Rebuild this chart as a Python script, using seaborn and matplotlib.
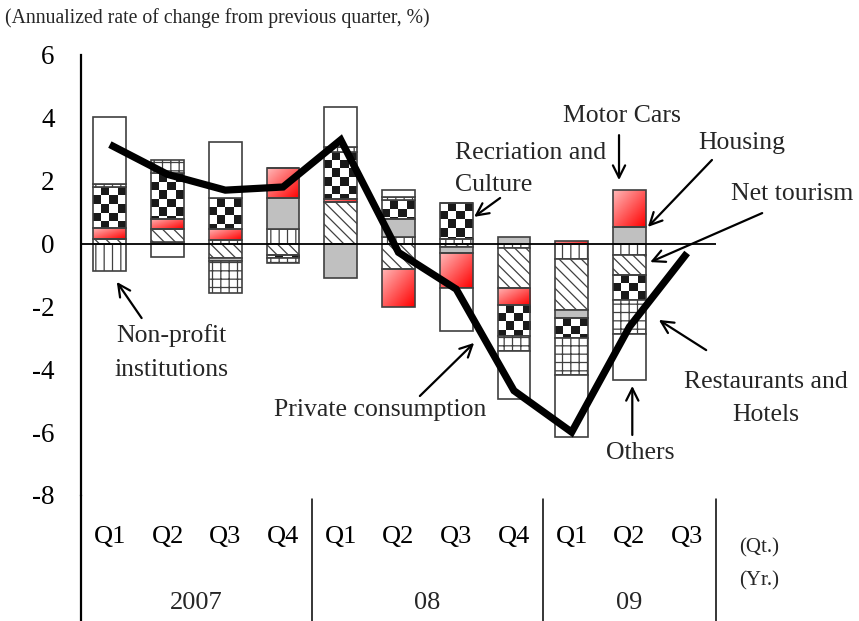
import numpy as np
import pandas as pd
import matplotlib
matplotlib.use("Agg")
import matplotlib.pyplot as plt
import matplotlib.transforms as mtransforms
from matplotlib.colors import ListedColormap
import seaborn as sns

# ---- data -------------------------------------------------------------
periods = ["2007Q1", "2007Q2", "2007Q3", "2007Q4",
           "2008Q1", "2008Q2", "2008Q3", "2008Q4",
           "2009Q1", "2009Q2", "2009Q3"]
quarters = ["Q1", "Q2", "Q3", "Q4", "Q1", "Q2", "Q3", "Q4", "Q1", "Q2", "Q3"]
years = ["2007", "08", "09"]

# contributions (percentage points), quarters 2007Q1 .. 2009Q2
non_profit = [-0.88, 0.06, 0.10, 0.45, 0.00, 0.20, 0.15, -0.15, -0.50, -0.37]
net_tourism = [0.15, 0.40, -0.45, -0.35, 1.33, -0.80, -0.12, -1.25, -1.62, -0.62]
housing = [0.00, 0.00, -0.12, 1.00, -1.10, 0.58, -0.18, 0.22, -0.25, 0.54]
motor_cars = [0.34, 0.32, 0.36, 0.95, 0.08, -1.23, -1.10, -0.55, 0.08, 1.17]
recreation = [1.30, 1.45, 0.98, -0.10, 1.50, 0.60, 1.15, -1.00, -0.65, -0.82]
restaurants = [0.11, 0.43, -1.00, -0.16, 0.15, 0.10, 0.00, -0.48, -1.15, -1.06]
others = [2.12, -0.43, 1.78, 0.00, 1.30, 0.23, -1.37, -1.52, -2.00, -1.48]

# private consumption, annualized q/q change (%)
private_consumption = [3.15, 2.20, 1.70, 1.80, 3.30, -0.28, -1.45, -4.68, -6.00, -2.65, -0.30]

# ---- style ------------------------------------------------------------
EDGE = "#404040"
sns.set_style("white")
plt.rcParams["font.family"] = ["Liberation Serif", "DejaVu Serif"]
plt.rcParams["hatch.color"] = EDGE
plt.rcParams["hatch.linewidth"] = 0.9

W, H = 859, 621
fig = plt.figure(figsize=(W / 100, H / 100), dpi=100)
ax = fig.add_axes([81 / W, 1 - 495 / H, (716 - 81) / W, 440 / H])

bar_periods = periods[:10]
series = [
    ("Non-profit institutions", non_profit, dict(facecolor="white", hatch="||")),
    ("Net tourism", net_tourism, dict(facecolor="white", hatch="\\\\\\")),
    ("Housing", housing, dict(facecolor="#c0c0c0")),
    ("Motor Cars", motor_cars, dict(facecolor="none")),
    ("Recreation and Culture", recreation, dict(facecolor="none")),
    ("Restaurants and Hotels", restaurants, dict(facecolor="white", hatch="++")),
    ("Others", others, dict(facecolor="white")),
]

pos_base = np.zeros(len(bar_periods))
neg_base = np.zeros(len(bar_periods))
containers = {}
for name, vals, style in series:
    v = np.asarray(vals, dtype=float)
    bottom = np.where(v >= 0, pos_base, neg_base)
    df = pd.DataFrame({"period": bar_periods, "value": v})
    sns.barplot(data=df, x="period", y="value", order=periods, width=0.57,
                bottom=bottom, errorbar=None, color="white", saturation=1,
                edgecolor=EDGE, linewidth=1.2, zorder=2, ax=ax, **style)
    containers[name] = ax.containers[-1]
    pos_base += np.where(v >= 0, v, 0)
    neg_base += np.where(v < 0, v, 0)


def bar_extent(p):
    x0, w = p.get_x(), p.get_width()
    y0, h = p.get_y(), p.get_height()
    lo, hi = sorted([y0, y0 + h])
    return x0, x0 + w, lo, hi


# red gradient fill for motor cars
n = 40
ii, jj = np.mgrid[0:n, 0:n]
t = (ii / (n - 1) + jj / (n - 1)) / 2
light = np.array([1.0, 0.72, 0.72])
red = np.array([1.0, 0.0, 0.0])
grad = light[None, None, :] * (1 - t[..., None]) + red[None, None, :] * t[..., None]
for p in containers["Motor Cars"].patches:
    x0, x1, lo, hi = bar_extent(p)
    if hi - lo <= 0:
        continue
    im = ax.imshow(grad, extent=(x0, x1, lo, hi), origin="upper", aspect="auto",
                   interpolation="bilinear", zorder=1.9)
    im.set_clip_path(p)

# checkerboard fill for recreation and culture
sq_h = 0.27
checker_cmap = ListedColormap(["white", "#1a1a1a"])
for p in containers["Recreation and Culture"].patches:
    x0, x1, lo, hi = bar_extent(p)
    if hi - lo <= 0:
        continue
    rows = int(np.ceil((hi - lo) / sq_h)) + 1
    board = np.indices((rows, 4)).sum(axis=0) % 2
    im = ax.imshow(board, extent=(x0, x1, hi - rows * sq_h, hi), origin="upper",
                   aspect="auto", interpolation="nearest", cmap=checker_cmap,
                   vmin=0, vmax=1, zorder=1.9)
    im.set_clip_path(p)

# zero line and private consumption line
ax.axhline(0, color="black", lw=1.3, zorder=3)
sns.lineplot(x=np.arange(len(periods)), y=private_consumption, color="black",
             lw=5.2, sort=False, zorder=4, ax=ax, solid_joinstyle="miter",
             solid_capstyle="butt")

# ---- axes -------------------------------------------------------------
ax.set_xlim(-0.5, 10.5)
ax.set_ylim(-8, 6)
ax.set_yticks(range(-8, 7, 2))
ax.set_yticklabels([str(v) for v in range(-8, 7, 2)])
ax.set_xticks(range(len(periods)))
ax.set_xticklabels(quarters)
ax.set_xlabel("")
ax.set_ylabel("")
ax.tick_params(axis="y", direction="in", length=7, width=1.3, pad=19,
               labelsize=19.5, colors="black")
ax.tick_params(axis="x", length=0, pad=22, labelsize=19, colors="black")
for s in ["top", "right", "bottom"]:
    ax.spines[s].set_visible(False)
ax.spines["left"].set_linewidth(1.6)
ax.spines["left"].set_color("black")

# category table lines below the plot
blend = mtransforms.blended_transform_factory(ax.transData, ax.transAxes)
ax.plot([0, 0], [0, -126 / 440], transform=ax.transAxes, color="black",
        lw=1.6, clip_on=False)
for xs in [3.5, 7.5, 10.5]:
    ax.plot([xs, xs], [-4 / 440, -126 / 440], transform=blend, color="black",
            lw=1.1, clip_on=False)
for xc, yr in zip([1.5, 5.5, 9.0], years):
    ax.text(xc, -108 / 440, yr, transform=blend, ha="center", va="center",
            fontsize=19)
ax.text(11.25, -53 / 440, "(Qt.)", transform=blend, ha="center", va="center",
        fontsize=15)
ax.text(11.25, -86 / 440, "(Yr.)", transform=blend, ha="center", va="center",
        fontsize=15)

fig.text(5 / W, 1 - 18 / H,
         "(Annualized rate of change from previous quarter, %)",
         ha="left", va="center", fontsize=14.2)

# ---- labels with arrows ----------------------------------------------
FS = 18.5
arrow = dict(arrowstyle="->", lw=1.6, color="black", mutation_scale=22,
             shrinkA=0, shrinkB=0)


def label(x, y, text, **kw):
    ax.text(x, y, text, fontsize=FS, va="center", clip_on=False, **kw)


def pointer(tail, head):
    ax.annotate("", xy=head, xytext=tail, arrowprops=arrow,
                annotation_clip=False)


label(8.87, 4.06, "Motor Cars", ha="center")
pointer((8.82, 3.45), (8.82, 2.02))

label(10.94, 3.20, "Housing", ha="center")
pointer((10.43, 2.66), (9.32, 0.53))

label(11.82, 1.57, "Net tourism", ha="center")
pointer((11.30, 0.97), (9.36, -0.59))

label(5.98, 2.88, "Recriation and", ha="left")
label(5.98, 1.86, "Culture", ha="left")
pointer((6.76, 1.45), (6.31, 0.85))

label(1.07, -2.91, "Non-profit", ha="center")
label(1.07, -4.02, "institutions", ha="center")
pointer((0.55, -2.37), (0.12, -1.22))

label(4.68, -5.29, "Private consumption", ha="center")
pointer((5.37, -4.85), (6.31, -3.16))

label(11.37, -4.40, "Restaurants and", ha="center")
label(11.37, -5.45, "Hotels", ha="center")
pointer((10.33, -3.39), (9.51, -2.43))

label(9.19, -6.66, "Others", ha="center")
pointer((9.05, -6.09), (9.05, -4.53))

fig.savefig("out.png", dpi=100)
